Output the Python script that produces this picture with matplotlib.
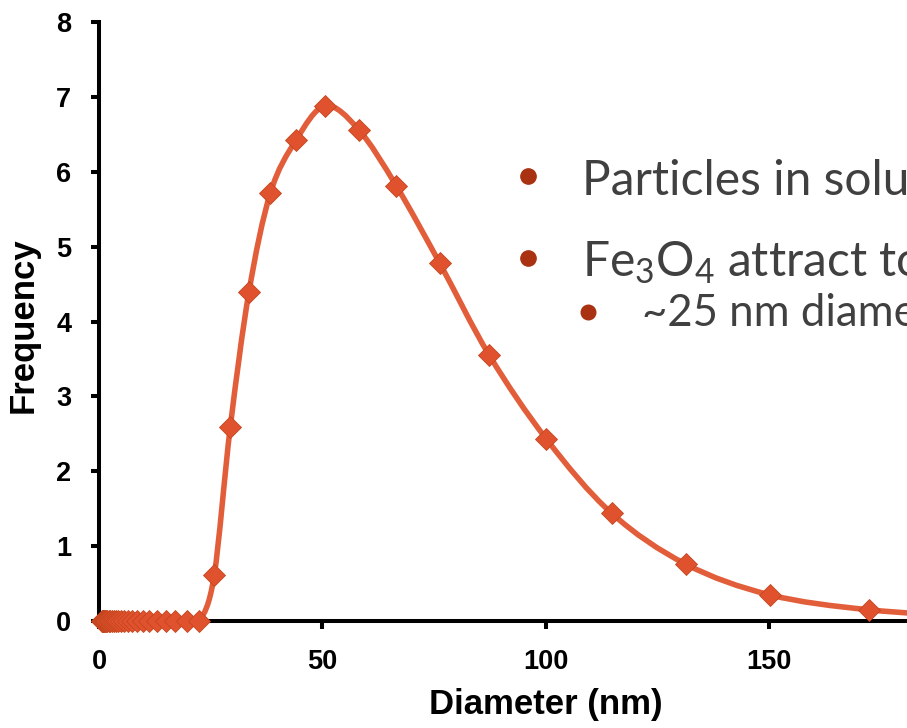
import numpy as np
import matplotlib
matplotlib.use("Agg")
import matplotlib.pyplot as plt
from matplotlib.path import Path
from matplotlib.patches import PathPatch

# size distribution (log-spaced bins)
diameter = [0.63, 0.73, 0.83, 0.96, 1.1, 1.26, 1.44, 1.65, 1.9, 2.2, 2.5, 2.9,
            3.3, 3.8, 4.3, 5.0, 5.7, 6.5, 7.5, 8.6, 9.9, 11.3, 13.0, 14.9, 17.1,
            19.6, 22.5, 25.8, 29.4, 33.6, 38.4, 44.1, 50.7, 58.2, 66.6, 76.3,
            87.4, 100.2, 114.8, 131.4, 150.2, 172.4, 197.6, 226.0]
frequency = [0] * 27 + [0.61, 2.59, 4.40, 5.72, 6.42, 6.88, 6.56, 5.81, 4.78,
                        3.55, 2.43, 1.44, 0.76, 0.35, 0.15, 0.06, 0.02]

x_ticks = [0, 50, 100, 150]
y_ticks = [0, 1, 2, 3, 4, 5, 6, 7, 8]

bullet_lines = ["Particles in solution", "Fe$\\mathregular{_3}$O$\\mathregular{_4}$ attract to"]
sub_line = "~25 nm diameter"

LINE_COLOR = "#E25E3A"
MARK_COLOR = "#E0512E"
MARK_EDGE = "#C4461F"
BULLET_COLOR = "#A83212"
TEXT_COLOR = "#404040"

W, H = 907, 728

plt.rcParams["mathtext.fontset"] = "custom"
plt.rcParams["mathtext.rm"] = "Lato"


def smooth_path(xs, ys):
    # excel-like smoothed line: catmull-rom segments as cubic beziers
    pts = np.column_stack([xs, ys]).astype(float)
    verts = [pts[0]]
    codes = [Path.MOVETO]
    n = len(pts)
    for i in range(n - 1):
        p0 = pts[max(i - 1, 0)]
        p1 = pts[i]
        p2 = pts[i + 1]
        p3 = pts[min(i + 2, n - 1)]
        c1 = p1 + (p2 - p0) / 6.0
        c2 = p2 - (p3 - p1) / 6.0
        verts += [c1, c2, p2]
        codes += [Path.CURVE4] * 3
    return Path(verts, codes)


fig = plt.figure(figsize=(W / 100, H / 100), dpi=100)
fig.patch.set_facecolor("white")

# axes runs on past the right edge (picture is cropped at ~181 nm)
ax = fig.add_axes([99 / W, 107 / H, 893 / W, 599 / H])

ax.add_patch(PathPatch(smooth_path(diameter, frequency), facecolor="none",
                       edgecolor=LINE_COLOR, linewidth=4.0, capstyle="round",
                       joinstyle="round", zorder=2))
ax.plot(diameter, frequency, linestyle="none", marker="D", markersize=11,
        markerfacecolor=MARK_COLOR, markeredgecolor=MARK_EDGE,
        markeredgewidth=0.6, zorder=3, clip_on=False)

ax.set_xlim(0, 200)
ax.set_ylim(0, 8)
ax.set_xticks(x_ticks)
ax.set_yticks(y_ticks)

for side in ["top", "right"]:
    ax.spines[side].set_visible(False)
for side in ["left", "bottom"]:
    ax.spines[side].set_linewidth(2.9)
    ax.spines[side].set_color("black")

ax.tick_params(axis="both", direction="out", length=6, width=2.9, pad=14,
               colors="black")
for lab in ax.get_xticklabels() + ax.get_yticklabels():
    lab.set_fontfamily("Liberation Sans")
    lab.set_fontweight("bold")
    lab.set_fontsize(19.5)

ax.set_xlabel("Diameter (nm)", fontfamily="Liberation Sans", fontweight="bold",
              fontsize=25)
ax.set_ylabel("Frequency", fontfamily="Liberation Sans", fontweight="bold",
              fontsize=25)
ax.xaxis.set_label_coords(0.5, -0.112)
ax.yaxis.set_label_coords(-0.066, 0.494)


def px(x, y):
    return x / W, 1 - y / H


# slide text lying over the chart
for (bx, by), (tx, ty), txt in zip([(528, 176), (528, 258)],
                                   [(582, 195), (582, 276)], bullet_lines):
    fig.lines.append(plt.Line2D([px(bx, by)[0]], [px(bx, by)[1]], marker="o",
                                markersize=11, color=BULLET_COLOR,
                                transform=fig.transFigure))
    fig.text(*px(tx, ty), txt, fontfamily="Lato", fontsize=34.5,
             color=TEXT_COLOR, va="baseline", ha="left")

fig.lines.append(plt.Line2D([px(588, 312)[0]], [px(588, 312)[1]], marker="o",
                            markersize=10.5, color=BULLET_COLOR,
                            transform=fig.transFigure))
fig.text(*px(642, 326), sub_line, fontfamily="Lato", fontsize=31.5,
         color=TEXT_COLOR, va="baseline", ha="left")

fig.savefig("out.png", dpi=100)
plt.close(fig)
